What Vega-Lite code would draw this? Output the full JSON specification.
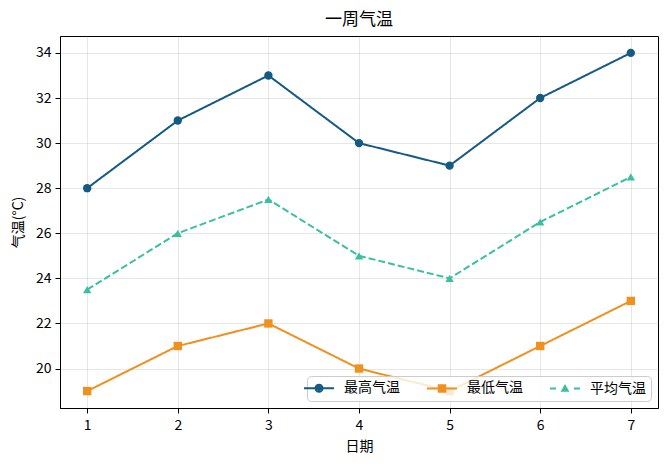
{
  "$schema": "https://vega.github.io/schema/vega-lite/v6.json",
  "width": 598,
  "height": 372,
  "autosize": {"type": "none"},
  "padding": {"left": 60, "top": 36, "right": 10, "bottom": 59},
  "title": {"text": "一周气温", "fontSize": 17, "fontWeight": "normal", "offset": 7, "font": "Noto Sans CJK SC", "color": "#000"},
  "data": {
    "values": [
      {"day": 1, "series": "最高气温", "temp": 28},
      {"day": 2, "series": "最高气温", "temp": 31},
      {"day": 3, "series": "最高气温", "temp": 33},
      {"day": 4, "series": "最高气温", "temp": 30},
      {"day": 5, "series": "最高气温", "temp": 29},
      {"day": 6, "series": "最高气温", "temp": 32},
      {"day": 7, "series": "最高气温", "temp": 34},
      {"day": 1, "series": "最低气温", "temp": 19},
      {"day": 2, "series": "最低气温", "temp": 21},
      {"day": 3, "series": "最低气温", "temp": 22},
      {"day": 4, "series": "最低气温", "temp": 20},
      {"day": 5, "series": "最低气温", "temp": 19},
      {"day": 6, "series": "最低气温", "temp": 21},
      {"day": 7, "series": "最低气温", "temp": 23},
      {"day": 1, "series": "平均气温", "temp": 23.5},
      {"day": 2, "series": "平均气温", "temp": 26},
      {"day": 3, "series": "平均气温", "temp": 27.5},
      {"day": 4, "series": "平均气温", "temp": 25},
      {"day": 5, "series": "平均气温", "temp": 24},
      {"day": 6, "series": "平均气温", "temp": 26.5},
      {"day": 7, "series": "平均气温", "temp": 28.5}
    ]
  },
  "encoding": {
    "x": {
      "field": "day",
      "type": "quantitative",
      "title": "日期",
      "scale": {"domain": [0.7, 7.3], "nice": false, "zero": false},
      "axis": {"values": [1, 2, 3, 4, 5, 6, 7], "format": "d", "labelPadding": 5, "titlePadding": 7}
    },
    "y": {
      "field": "temp",
      "type": "quantitative",
      "title": "气温(°C)",
      "scale": {"domain": [18.25, 34.75], "nice": false, "zero": false},
      "axis": {"values": [20, 22, 24, 26, 28, 30, 32, 34], "labelPadding": 4, "titlePadding": 10}
    }
  },
  "layer": [
    {
      "mark": {"type": "line", "strokeWidth": 2},
      "encoding": {
        "color": {
          "field": "series",
          "type": "nominal",
          "scale": {"domain": ["最低气温", "最高气温", "平均气温"], "range": ["#f0901e", "#155a82", "#3cbfa0"]},
          "legend": null
        },
        "strokeDash": {
          "field": "series",
          "type": "nominal",
          "scale": {"domain": ["平均气温", "最高气温", "最低气温"], "range": [[7, 3], [1, 0], [1, 0]]},
          "legend": null
        }
      }
    },
    {
      "transform": [{"filter": "datum.series === '最高气温'"}],
      "mark": {"type": "point", "shape": "circle", "filled": true, "opacity": 1, "size": 70},
      "encoding": {"color": {"field": "series", "type": "nominal", "legend": null}}
    },
    {
      "transform": [{"filter": "datum.series === '最低气温'"}],
      "mark": {"type": "point", "shape": "square", "filled": true, "opacity": 1, "size": 70},
      "encoding": {"color": {"field": "series", "type": "nominal", "legend": null}}
    },
    {
      "transform": [{"filter": "datum.series === '平均气温'"}],
      "mark": {"type": "point", "shape": "triangle-up", "filled": true, "opacity": 1, "size": 70},
      "encoding": {"color": {"field": "series", "type": "nominal", "legend": null}}
    },
    {
      "mark": {"type": "point", "filled": false, "opacity": 0, "size": 100, "strokeWidth": 2},
      "encoding": {
        "stroke": {
          "field": "series",
          "type": "nominal",
          "title": null,
          "scale": {"domain": ["最高气温", "最低气温", "平均气温"], "range": ["#155a82", "#f0901e", "#3cbfa0"]},
          "legend": {
            "orient": "bottom-right",
            "offset": 7,
            "direction": "horizontal",
            "columns": 3,
            "columnPadding": 23,
            "labelFontSize": 14,
            "labelFont": "Noto Sans CJK SC",
            "labelColor": "#000",
            "labelOffset": 18,
            "symbolSize": 100,
            "symbolOpacity": 1,
            "symbolStrokeWidth": 2,
            "symbolFillColor": "transparent",
            "padding": 5,
            "fillColor": "rgba(255,255,255,0.8)",
            "strokeColor": "#cccccc",
            "cornerRadius": 4
          }
        },
        "shape": {
          "field": "series",
          "type": "nominal",
          "title": null,
          "scale": {
            "domain": ["最高气温", "最低气温", "平均气温"],
            "range": [
              "M-3,0H3M-0.7,0A0.7,0.7 0 1,0 0.7,0A0.7,0.7 0 1,0 -0.7,0ZM-0.3,0A0.3,0.3 0 1,0 0.3,0A0.3,0.3 0 1,0 -0.3,0Z",
              "M-3,0H3M-0.65,-0.65H0.65V0.65H-0.65ZM-0.25,-0.25H0.25V0.25H-0.25Z",
              "M-3,0H-1.8M1.8,0H3M0,-0.5L0.55,0.45H-0.55ZM0,-0.1L0.2,0.25H-0.2Z"
            ]
          }
        }
      }
    }
  ],
  "config": {
    "font": "Noto Sans CJK SC",
    "view": {"stroke": "#000", "strokeWidth": 1},
    "axis": {
      "domainColor": "#000",
      "tickColor": "#000",
      "tickSize": 5,
      "labelFontSize": 14,
      "labelColor": "#000",
      "labelFont": "Noto Sans CJK SC",
      "titleFontSize": 14,
      "titleFontWeight": "normal",
      "titleColor": "#000",
      "titleFont": "Noto Sans CJK SC",
      "gridColor": "#b0b0b0",
      "gridOpacity": 0.3
    }
  }
}
